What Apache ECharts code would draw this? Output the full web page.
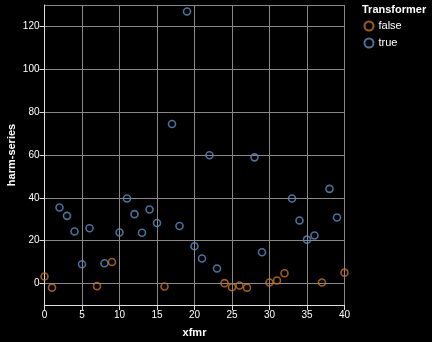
<!DOCTYPE html>
<html>
<head>
<meta charset="utf-8">
<script src="https://cdn.jsdelivr.net/npm/echarts@6/dist/echarts.min.js"></script>
<style>
html,body{margin:0;padding:0;background:#000;}
#chart{width:432px;height:342px;}
</style>
</head>
<body>
<div id="chart"></div>
<script>
var legendTitle = 'Transformer';
var xTitle = 'xfmr';
var yTitle = 'harm-series';
var groups = ['false', 'true'];

var xfmrFalse = [0, 1, 7, 9, 16, 24, 25, 26, 27, 30, 31, 32, 37, 40];
var harmFalse = [3.3, -1.9, -1.2, 10.1, -1.4, 0.2, -1.7, -0.9, -1.9, 0.5, 1.4, 4.8, 0.5, 5.1];

var xfmrTrue = [2, 3, 4, 5, 6, 8, 10, 11, 12, 13, 14, 15, 17, 18, 19, 20, 21, 22, 23, 28, 29, 33, 34, 35, 36, 38, 39];
var harmTrue = [35.5, 31.6, 24.3, 9.0, 25.8, 9.5, 23.8, 39.7, 32.4, 23.7, 34.6, 28.3, 74.5, 26.9, 127.0, 17.4, 11.7, 59.9, 7.0, 58.9, 14.6, 39.7, 29.4, 20.5, 22.4, 44.2, 30.8];

function pairs(xs, ys) { return xs.map(function (x, i) { return [x, ys[i]]; }); }

var colors = ['#c8741c', '#5a8fc2'];
var font = 'Liberation Sans, Arial, sans-serif';

var chart = echarts.init(document.getElementById('chart'), null, {renderer: 'canvas'});
chart.setOption({
  backgroundColor: '#000',
  animation: false,
  title: {
    text: legendTitle, left: 362, top: 4, padding: 0,
    textStyle: {color: '#fff', fontSize: 11, fontWeight: 'bold', fontFamily: font}
  },
  legend: {
    orient: 'vertical', left: 363.5, top: 20.5, padding: 0, itemGap: 6,
    itemWidth: 9, itemHeight: 9, icon: 'circle',
    textStyle: {color: '#fff', fontSize: 11, fontFamily: font},
    data: groups
  },
  grid: {left: 44.5, top: 5, width: 300, height: 300, outerBoundsMode: 'none', containLabel: false},
  xAxis: {
    type: 'value', min: 0, max: 40, interval: 5,
    name: xTitle, nameLocation: 'middle', nameGap: 22,
    nameTextStyle: {color: '#fff', fontSize: 11, fontWeight: 'bold', fontFamily: font},
    axisLine: {show: true, onZero: false, lineStyle: {color: '#ddd', width: 1}},
    axisTick: {show: true, length: 5, lineStyle: {color: '#ddd'}},
    axisLabel: {color: '#fff', fontSize: 10, fontFamily: font, margin: 5},
    splitLine: {show: true, lineStyle: {color: '#888', width: 1}}
  },
  yAxis: {
    type: 'value', min: -10, max: 130, splitNumber: 7,
    name: yTitle, nameLocation: 'middle', nameGap: 27, nameMoveOverlap: false,
    nameTextStyle: {color: '#fff', fontSize: 11, fontWeight: 'bold', fontFamily: font},
    axisLine: {show: true, onZero: false, lineStyle: {color: '#ddd', width: 1}},
    axisTick: {show: true, length: 5, lineStyle: {color: '#ddd'}},
    axisLabel: {color: '#fff', fontSize: 10, fontFamily: font, margin: 5, showMinLabel: false, showMaxLabel: false},
    splitLine: {show: true, lineStyle: {color: '#888', width: 1}}
  },
  series: [
    {
      name: groups[0], type: 'scatter', symbol: 'circle', symbolSize: 7,
      itemStyle: {color: 'transparent', borderColor: colors[0], borderWidth: 1.6},
      data: pairs(xfmrFalse, harmFalse)
    },
    {
      name: groups[1], type: 'scatter', symbol: 'circle', symbolSize: 7,
      itemStyle: {color: 'transparent', borderColor: colors[1], borderWidth: 1.6},
      data: pairs(xfmrTrue, harmTrue)
    }
  ]
});
</script>
</body>
</html>
